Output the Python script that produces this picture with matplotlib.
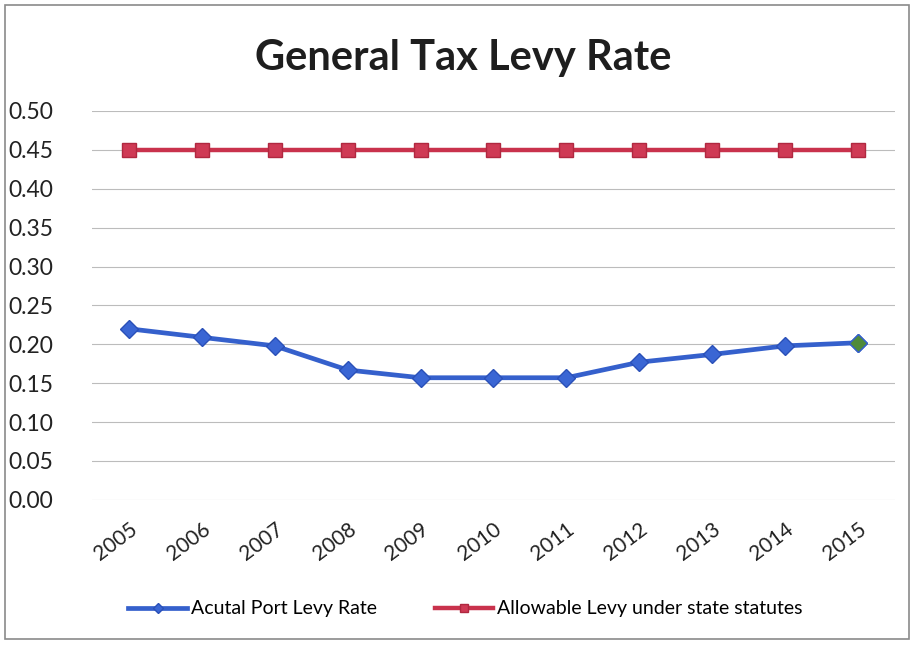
import matplotlib
matplotlib.use("Agg")
import matplotlib.pyplot as plt
from matplotlib.patches import Rectangle

years = ["2005", "2006", "2007", "2008", "2009", "2010",
         "2011", "2012", "2013", "2014", "2015"]
actual_rate = [0.220, 0.209, 0.198, 0.167, 0.157, 0.157,
               0.157, 0.177, 0.187, 0.198, 0.202]
allowable_rate = [0.45] * len(years)
y_ticks = [0.00, 0.05, 0.10, 0.15, 0.20, 0.25, 0.30, 0.35, 0.40, 0.45, 0.50]

plt.rcParams["font.family"] = ["Lato", "DejaVu Sans"]

fig = plt.figure(figsize=(9.13, 6.45), dpi=100)
ax = fig.add_axes([0.101, 0.225, 0.879, 0.603])

x = list(range(len(years)))
ax.plot(x, allowable_rate, color="#c9324c", linewidth=3.2, marker="s",
        markersize=10, markerfacecolor="#cf3a55", markeredgecolor="#b02840",
        label="Allowable Levy under state statutes", zorder=3)
ax.plot(x, actual_rate, color="#3560cc", linewidth=3.4, marker="D",
        markersize=9, markerfacecolor="#3a66d4", markeredgecolor="#2a50b8",
        label="Acutal Port Levy Rate", zorder=4)
# last point carries its own marker colour
ax.plot(x[-1], actual_rate[-1], marker="D", markersize=9,
        markerfacecolor="#4f8a3a", markeredgecolor="#3560cc", zorder=5)

ax.set_xlim(-0.5, len(years) - 0.5)
ax.set_ylim(0, 0.5)
ax.set_yticks(y_ticks)
ax.set_yticklabels([f"{v:.2f}" for v in y_ticks], fontsize=16.5, color="#222222")
ax.set_xticks(x)
ax.set_xticklabels(years, rotation=37, ha="right", rotation_mode="anchor",
                   fontsize=15, color="#222222")
ax.tick_params(axis="y", length=0, pad=28)
ax.tick_params(axis="x", length=0, pad=14)
ax.grid(axis="y", color="#bcbcbc", linewidth=0.8)
ax.set_axisbelow(True)
for spine in ax.spines.values():
    spine.set_visible(False)

fig.text(0.507, 0.91, "General Tax Levy Rate", ha="center", va="center",
         fontsize=30, fontweight="bold", color="#1e1e1e")

handles, labels = ax.get_legend_handles_labels()
fig.legend([handles[1], handles[0]], [labels[1], labels[0]], loc="center",
           bbox_to_anchor=(0.51, 0.056), ncol=2, frameon=False, fontsize=14,
           handlelength=3.0, columnspacing=3.0, handletextpad=0.2,
           markerscale=0.6)

fig.patches.append(Rectangle((0.006, 0.01), 0.99, 0.982, transform=fig.transFigure,
                             fill=False, edgecolor="#8a8a8a", linewidth=1.2))

fig.savefig("out.png", dpi=100)
